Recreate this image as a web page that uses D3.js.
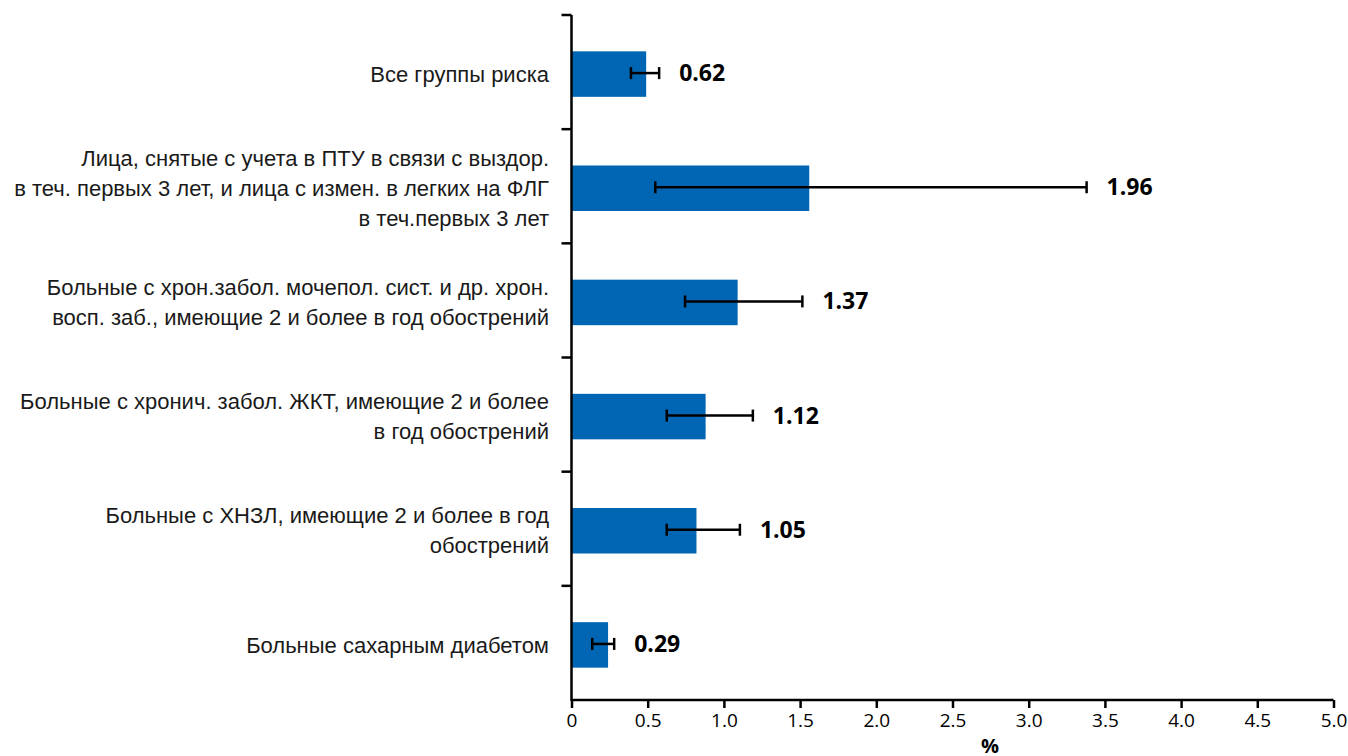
<!DOCTYPE html>
<html><head><meta charset="utf-8">
<script src="https://cdn.jsdelivr.net/npm/d3@7"></script>
<style>body{margin:0;background:#fff}</style>
</head><body>
<svg id="c" width="1348" height="756"></svg>
<script>
const categories = [
  ["Все группы риска"],
  ["Лица, снятые с учета в ПТУ в связи с выздор.", "в теч. первых 3 лет, и лица с измен. в легких на ФЛГ", "в теч.первых 3 лет"],
  ["Больные с хрон.забол. мочепол. сист. и др. хрон.", "восп. заб., имеющие 2 и более в год обострений"],
  ["Больные с хронич. забол. ЖКТ, имеющие 2 и более", "в год обострений"],
  ["Больные с ХНЗЛ, имеющие 2 и более в год", "обострений"],
  ["Больные сахарным диабетом"]
];
const values = [0.49, 1.56, 1.09, 0.88, 0.82, 0.24];
const errLow = [0.39, 0.55, 0.745, 0.625, 0.625, 0.136];
const errHigh = [0.575, 3.38, 1.515, 1.19, 1.105, 0.28];
const valueLabels = ["0.62", "1.96", "1.37", "1.12", "1.05", "0.29"];
const xTicks = [0, 0.5, 1.0, 1.5, 2.0, 2.5, 3.0, 3.5, 4.0, 4.5, 5.0];
const xTickLabels = ["0", "0.5", "1.0", "1.5", "2.0", "2.5", "3.0", "3.5", "4.0", "4.5", "5.0"];
const xTitle = "%";

const svg = d3.select("#c");
const x = d3.scaleLinear().domain([0, 5]).range([571.5, 1333.5]);
const idx = d3.range(categories.length);
const y = d3.scaleBand().domain(idx).range([15, 700]).padding(0);
const step = y.step();
const barH = 45.5;
const barY = i => y(i) + step / 2 - barH / 2 + 2;
const cy = i => barY(i) + barH / 2;

const blue = "#0066b3";
svg.append("g").selectAll("rect").data(idx).join("rect")
  .attr("x", x(0)).attr("y", barY)
  .attr("width", i => x(values[i]) - x(0)).attr("height", barH)
  .attr("fill", blue);

// error bars
const eg = svg.append("g").attr("stroke", "#000").attr("stroke-width", 2.5);
idx.forEach(i => {
  eg.append("line").attr("x1", x(errLow[i])).attr("x2", x(errHigh[i])).attr("y1", cy(i) - 1).attr("y2", cy(i) - 1);
  [errLow[i], errHigh[i]].forEach(v => {
    eg.append("line").attr("x1", x(v)).attr("x2", x(v)).attr("y1", cy(i) - 7).attr("y2", cy(i) + 5);
  });
});

// value labels
svg.append("g").selectAll("text").data(idx).join("text")
  .attr("x", i => x(errHigh[i]) + 20).attr("y", i => cy(i) - 1)
  .attr("dy", "0.35em")
  .attr("font-family", "'Open Sans', 'Noto Sans', sans-serif")
  .attr("font-weight", "bold").attr("font-size", 23)
  .attr("fill", "#000")
  .text(i => valueLabels[i]);

// y axis
const yAxis = svg.append("g");
yAxis.append("line").attr("x1", x(0)).attr("x2", x(0)).attr("y1", 15).attr("y2", 701)
  .attr("stroke", "#000").attr("stroke-width", 2.5);
const yTickPos = idx.map(i => y(i));
yAxis.selectAll("line.t").data(yTickPos).join("line").attr("class", "t")
  .attr("x1", x(0) - 10).attr("x2", x(0)).attr("y1", d => d).attr("y2", d => d)
  .attr("stroke", "#000").attr("stroke-width", 2.5);

// category labels
const lineH = 30;
const cg = svg.append("g")
  .attr("font-family", "'Liberation Sans', Arial, sans-serif")
  .attr("font-size", 22).attr("fill", "#1a1a1a").attr("text-anchor", "end");
idx.forEach(i => {
  const lines = categories[i];
  const t = cg.append("text").attr("x", 549).attr("y", cy(i) - (lines.length - 1) * lineH / 2);
  lines.forEach((l, k) => t.append("tspan").attr("x", 549).attr("dy", k === 0 ? "0.35em" : lineH).text(l));
});

// x axis
const xAxis = d3.axisBottom(x).tickValues(xTicks).tickFormat((d, i) => xTickLabels[i]).tickSize(8).tickPadding(6);
const xg = svg.append("g").attr("transform", "translate(0,700)").call(xAxis);
xg.select(".domain").attr("stroke", "#000").attr("stroke-width", 2.5).attr("d", `M${x(0)},0H${x(5)}`);
xg.selectAll(".tick line").attr("stroke", "#000").attr("stroke-width", 2.5);
xg.selectAll(".tick text").attr("font-family", "'Open Sans', 'Noto Sans', sans-serif").attr("font-size", 19).attr("fill", "#000");

svg.append("text").attr("x", 990).attr("y", 753)
  .attr("text-anchor", "middle")
  .attr("font-family", "'Open Sans', 'Noto Sans', sans-serif")
  .attr("font-weight", "bold").attr("font-size", 20).text(xTitle);
</script>
</body></html>
